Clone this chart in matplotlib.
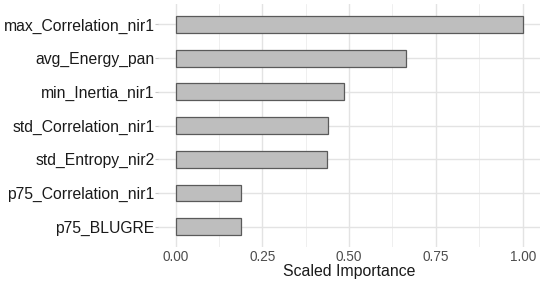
import numpy as np
import matplotlib
matplotlib.use("Agg")
import matplotlib.pyplot as plt
from matplotlib.ticker import MultipleLocator

plt.rcParams["font.family"] = ["Liberation Sans", "DejaVu Sans"]

# feature names, bottom to top as drawn
features = [
    "p75_BLUGRE",
    "p75_Correlation_nir1",
    "std_Entropy_nir2",
    "std_Correlation_nir1",
    "min_Inertia_nir1",
    "avg_Energy_pan",
    "max_Correlation_nir1",
]
importance = [0.188, 0.189, 0.436, 0.440, 0.486, 0.665, 1.0]
xticks = [0.0, 0.25, 0.5, 0.75, 1.0]
xtick_labels = ["0.00", "0.25", "0.50", "0.75", "1.00"]

fig = plt.figure(figsize=(5.5, 2.85), dpi=100)
ax = fig.add_axes([0.2876, 0.1333, 0.6942, 0.852])

y = np.arange(len(features))
ax.barh(y, importance, height=0.5, color="#bebebe", edgecolor="#5a5a5a",
        linewidth=0.9, zorder=3)

ax.set_xlim(-0.05, 1.05)
ax.set_ylim(-0.6, len(features) - 0.4)

ax.set_xticks(xticks)
ax.set_xticklabels(xtick_labels)
ax.xaxis.set_minor_locator(MultipleLocator(0.125))
ax.set_yticks(y)
ax.set_yticklabels(features)

ax.grid(which="major", color="#e3e3e3", linewidth=1.0, zorder=0)
ax.grid(which="minor", axis="x", color="#ededed", linewidth=0.6, zorder=0)
ax.set_axisbelow(True)

for s in ax.spines.values():
    s.set_visible(False)

ax.tick_params(axis="y", length=2, width=0.8, color="#c8c8c8", pad=0.5,
               labelsize=11.3, labelcolor="#1a1a1a")
ax.tick_params(axis="x", length=0, pad=2, labelsize=9.8, labelcolor="#4d4d4d")
ax.tick_params(which="minor", length=0)

ax.set_xlabel("Scaled Importance", fontsize=11.4, color="#1a1a1a", labelpad=0)

fig.savefig("out.png", dpi=100)
